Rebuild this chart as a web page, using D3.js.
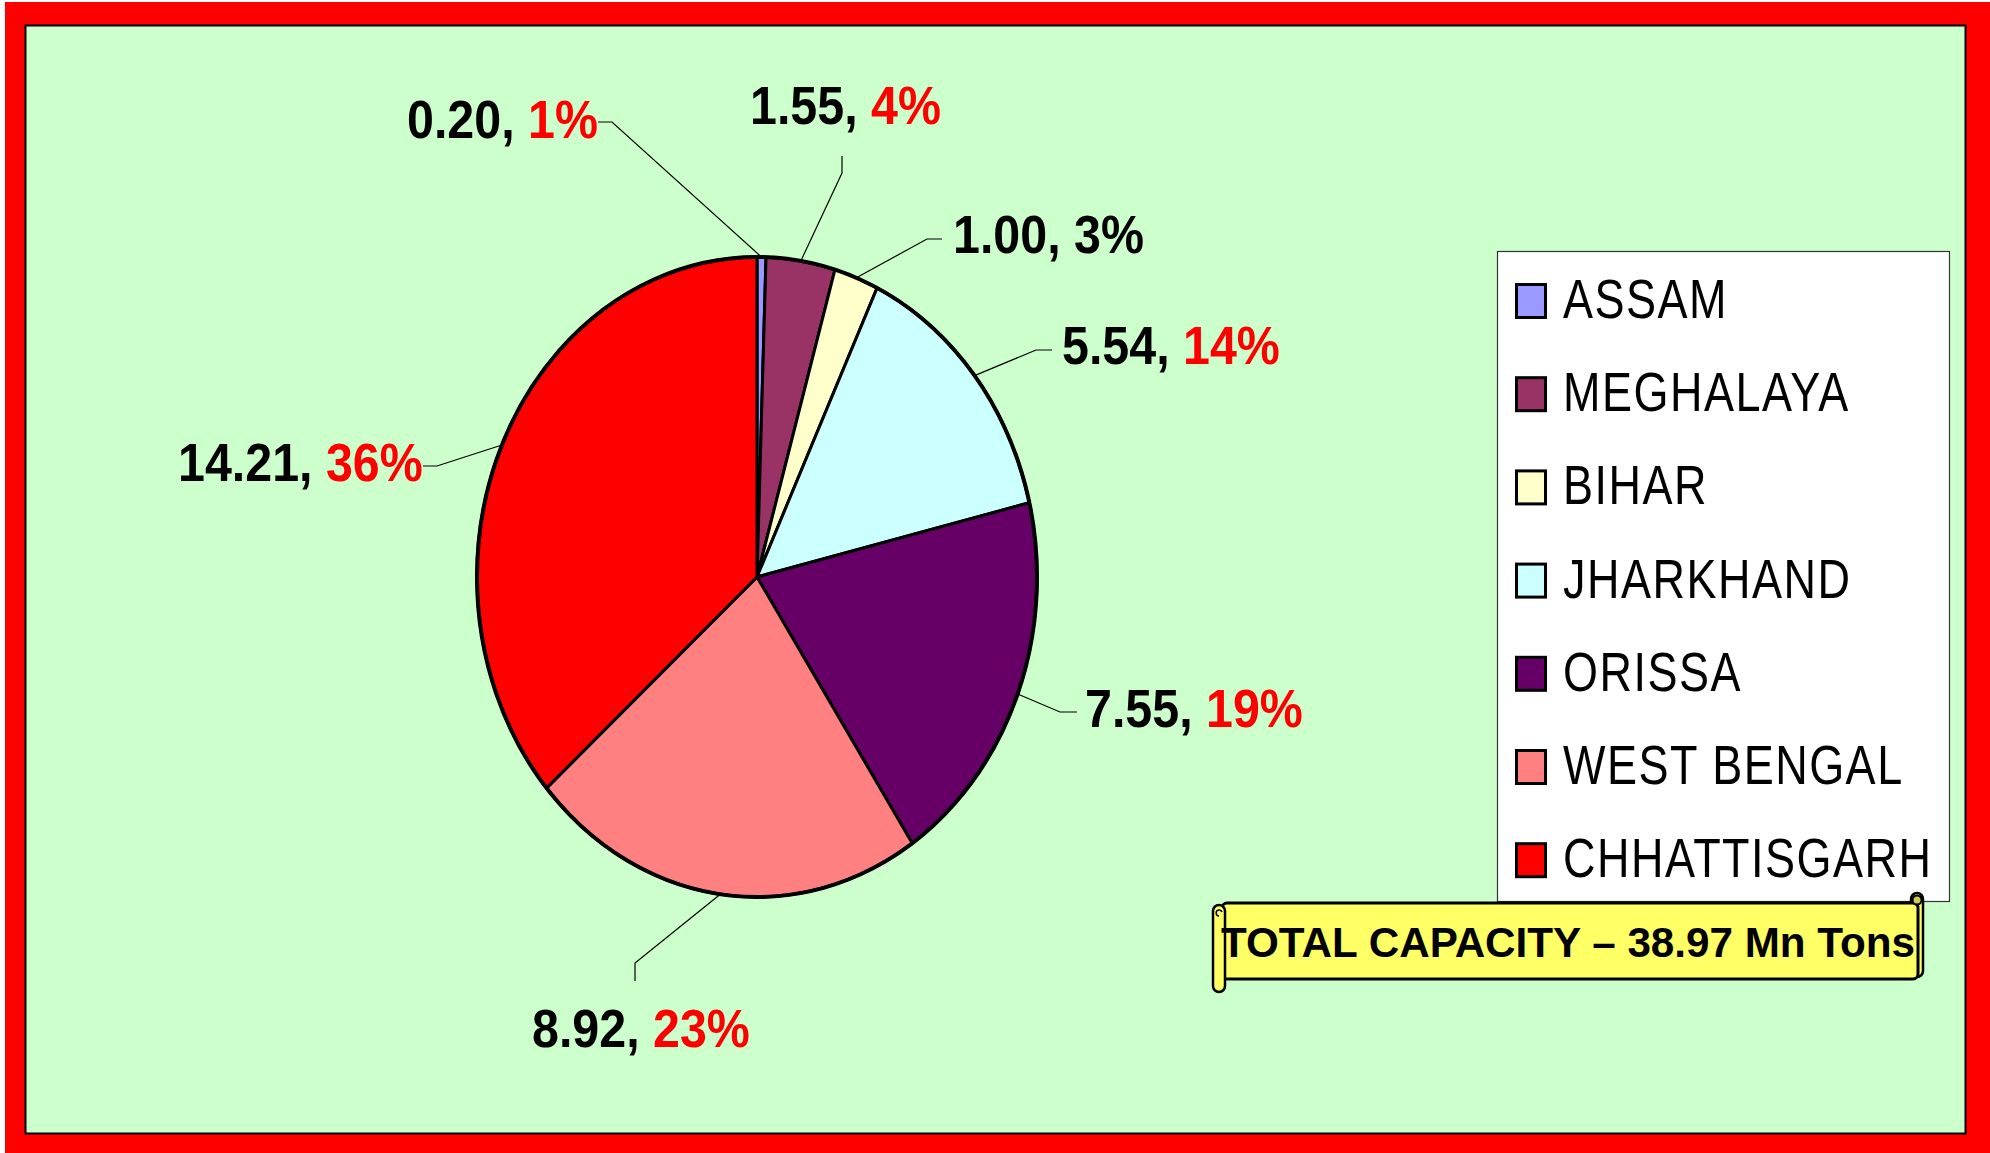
<!DOCTYPE html>
<html>
<head>
<meta charset="utf-8">
<script src="https://cdn.jsdelivr.net/npm/d3@7/dist/d3.min.js"></script>
<style>
  body { margin: 0; background: #fff; }
  svg { display: block; }
  text { font-family: "Liberation Sans", Arial, sans-serif; }
</style>
</head>
<body>
<div id="chart"></div>
<script>
// data --------------
const states = ['ASSAM', 'MEGHALAYA', 'BIHAR', 'JHARKHAND', 'ORISSA', 'WEST BENGAL', 'CHHATTISGARH'];
const capacity = [0.20, 1.55, 1.00, 5.54, 7.55, 8.92, 14.21]; // Mn Tons
const colors = ['#9999FF', '#993366', '#FFFFCC', '#CCFFFF', '#660066', '#FF8080', '#FF0000'];
const pctColors = ['#FF0000', '#FF0000', '#000000', '#FF0000', '#FF0000', '#FF0000', '#FF0000'];

// label layout: [textX, baseline, leaderStartX, leaderStartY, kneeX, kneeY]
const labelLayout = [
  [407, 138, 598, 122, 612, 122],
  [750, 124, 842, 156, 842, 173],
  [953, 253, 942, 239, 927, 239],
  [1062, 364, 1052, 350, 1036, 350],
  [1085, 727, 1077, 712, 1060, 712],
  [532, 1047, 635, 981, 635, 963],
  [178, 481, 423, 466, 437, 466]
];

const width = 1990, height = 1153;
const pie = { cx: 757, cy: 577, rx: 280, ry: 320 };
const legend = { x: 1497, y: 251, w: 452, h: 650, step: 93.2, first: 301 };

const svg = d3.select('#chart').append('svg')
  .attr('width', width)
  .attr('height', height);

// frame
svg.append('rect')
  .attr('x', 5).attr('y', 2)
  .attr('width', width - 5).attr('height', height - 2)
  .attr('fill', '#FF0000');
svg.append('rect')
  .attr('x', 25.5).attr('y', 25.5)
  .attr('width', 1940).attr('height', 1108)
  .attr('fill', '#CCFFCC')
  .attr('stroke', '#000')
  .attr('stroke-width', 2);

// pie ---------------
const total = d3.sum(capacity);
const arcs = d3.pie().sort(null).value(d => d)(capacity);
const arc = d3.arc().innerRadius(0).outerRadius(pie.rx);
const yScale = pie.ry / pie.rx;

const pieG = svg.append('g')
  .attr('transform', `translate(${pie.cx},${pie.cy}) scale(1,${yScale})`);

pieG.selectAll('path')
  .data(arcs)
  .enter()
  .append('path')
    .attr('d', arc)
    .attr('fill', (d, i) => colors[i])
    .attr('stroke', '#000')
    .attr('stroke-width', 3)
    .attr('stroke-linejoin', 'round')
    .attr('vector-effect', 'non-scaling-stroke');

// outline on top so the rim is even
pieG.append('ellipse')
  .attr('rx', pie.rx).attr('ry', pie.rx)
  .attr('fill', 'none')
  .attr('stroke', '#000')
  .attr('stroke-width', 4)
  .attr('vector-effect', 'non-scaling-stroke');

// point on the rim at the middle of a slice
function rimPoint(d) {
  const a = (d.startAngle + d.endAngle) / 2;
  return [pie.cx + pie.rx * Math.sin(a), pie.cy - pie.ry * Math.cos(a)];
}

// leader lines
svg.selectAll('.leader')
  .data(arcs)
  .enter()
  .append('polyline')
    .attr('class', 'leader')
    .attr('points', (d, i) => {
      const l = labelLayout[i];
      const p = rimPoint(d);
      return [[l[2], l[3]], [l[4], l[5]], p].map(q => q.join(',')).join(' ');
    })
    .attr('fill', 'none')
    .attr('stroke', '#000')
    .attr('stroke-width', 1.2);

// data labels
const fmt = d3.format('.2f');
const labels = svg.selectAll('.data-label')
  .data(arcs)
  .enter()
  .append('text')
    .attr('class', 'data-label')
    .attr('transform', (d, i) => `translate(${labelLayout[i][0]},${labelLayout[i][1]}) scale(0.913,1)`)
    .style('font-size', '53px')
    .style('font-weight', 'bold');

labels.append('tspan')
  .attr('fill', '#000')
  .text(d => fmt(d.value) + ', ');
labels.append('tspan')
  .attr('fill', (d, i) => pctColors[i])
  .text(d => Math.round(d.value / total * 100) + '%');

// legend ------------
svg.append('rect')
  .attr('x', legend.x + 0.5).attr('y', legend.y + 0.5)
  .attr('width', legend.w).attr('height', legend.h)
  .attr('fill', '#fff')
  .attr('stroke', '#333')
  .attr('stroke-width', 1.2);

const item = svg.selectAll('.legend-item')
  .data(states)
  .enter()
  .append('g')
    .attr('class', 'legend-item')
    .attr('transform', (d, i) => `translate(0,${legend.first + i * legend.step})`);

item.append('rect')
  .attr('x', 1516.5).attr('y', -16.5)
  .attr('width', 29).attr('height', 33)
  .attr('fill', (d, i) => colors[i])
  .attr('stroke', '#000')
  .attr('stroke-width', 3);

item.append('text')
  .attr('transform', 'translate(1563,17) scale(1,1.24)')
  .style('font-size', '45px')
  .style('letter-spacing', '1.5px')
  .attr('fill', '#000')
  .text(d => d);

// total banner (scroll) ----
const banner = svg.append('g').attr('class', 'banner');

banner.append('rect')
  .attr('x', 1911).attr('y', 893)
  .attr('width', 12).attr('height', 84)
  .attr('rx', 6)
  .attr('fill', '#FFFF66').attr('stroke', '#000').attr('stroke-width', 2.5);
banner.append('rect')
  .attr('x', 1222).attr('y', 903)
  .attr('width', 696).attr('height', 76)
  .attr('rx', 5)
  .attr('fill', '#FFFF66').attr('stroke', '#000').attr('stroke-width', 3);
banner.append('circle')
  .attr('cx', 1917).attr('cy', 900).attr('r', 4.5)
  .attr('fill', '#CCCC52').attr('stroke', '#000').attr('stroke-width', 2);
banner.append('rect')
  .attr('x', 1213).attr('y', 905)
  .attr('width', 12).attr('height', 87)
  .attr('rx', 6)
  .attr('fill', '#FFFF66').attr('stroke', '#000').attr('stroke-width', 2.5);
banner.append('path')
  .attr('d', 'M1219,916 a3,3 0 1,1 3,-4')
  .attr('fill', 'none').attr('stroke', '#000').attr('stroke-width', 1.5);

banner.append('text')
  .attr('x', 1221).attr('y', 957)
  .attr('textLength', 694)
  .attr('lengthAdjust', 'spacingAndGlyphs')
  .style('font-size', '43px')
  .style('font-weight', 'bold')
  .attr('fill', '#000')
  .text('TOTAL CAPACITY \u2013 ' + fmt(total) + ' Mn Tons');
</script>
</body>
</html>
